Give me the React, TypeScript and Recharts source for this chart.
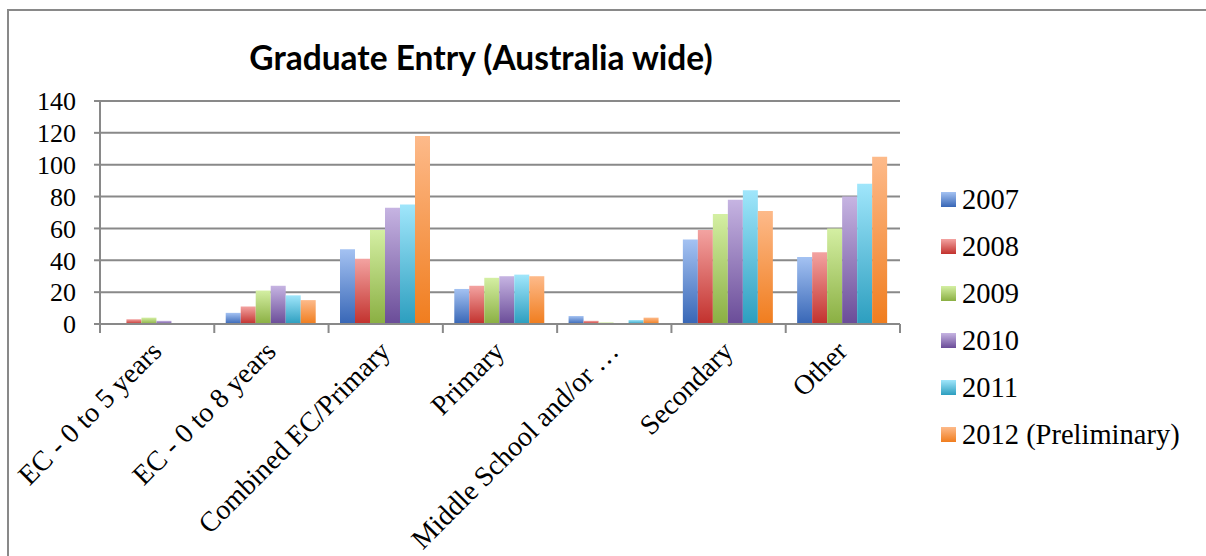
import React from 'react';
import { BarChart, Bar, XAxis, YAxis, CartesianGrid, Legend } from 'recharts';

const categories = [
  'EC - 0 to 5 years',
  'EC - 0 to 8 years',
  'Combined EC/Primary',
  'Primary',
  'Middle School and/or …',
  'Secondary',
  'Other',
];
const seriesNames = ['2007', '2008', '2009', '2010', '2011', '2012 (Preliminary)'];

const v2007 = [0, 7, 47, 22, 5, 53, 42];
const v2008 = [3, 11, 41, 24, 2, 59, 45];
const v2009 = [4, 21, 59, 29, 1, 69, 60];
const v2010 = [2, 24, 73, 30, 0, 78, 80];
const v2011 = [0.5, 18, 75, 31, 2.5, 84, 88];
const v2012 = [0, 15, 118, 30, 4, 71, 105];
const seriesValues = [v2007, v2008, v2009, v2010, v2011, v2012];

const yTicks = [0, 20, 40, 60, 80, 100, 120, 140];

// light top -> darker bottom, like the Office 2007 bar fills
const topColors = ['#a4c2f2', '#f3a3a1', '#d4efa3', '#c6b4e2', '#a0e6fb', '#fdba8a'];
const bottomColors = ['#3766b6', '#c2312d', '#8aaf42', '#6a4c98', '#2c9ebf', '#f07d1e'];

const data = categories.map((name, i) => {
  const row: Record<string, string | number> = { name };
  seriesNames.forEach((s, k) => {
    row[s] = seriesValues[k][i];
  });
  return row;
});

const SERIF = '"Liberation Serif", "DejaVu Serif", serif';
const GRAY = '#898989';
const PLOT_W = 800;
const BAND = PLOT_W / categories.length;

const CategoryTick = (props: any) => {
  const { x, y, payload, index } = props;
  return (
    <g>
      <line x1={x - BAND / 2} x2={x - BAND / 2} y1={y} y2={y + 9} stroke={GRAY} strokeWidth={2} />
      {index === categories.length - 1 && (
        <line x1={x + BAND / 2} x2={x + BAND / 2} y1={y} y2={y + 9} stroke={GRAY} strokeWidth={2} />
      )}
      <text
        transform={`translate(${x + 6},${y + 29}) rotate(-45)`}
        textAnchor="end"
        fontFamily={SERIF}
        fontSize={28}
        fill="#000"
      >
        {payload.value}
      </text>
    </g>
  );
};

const renderLegend = () => (
  <div style={{ fontFamily: SERIF, fontSize: 28.5, color: '#000' }}>
    {seriesNames.map((name, i) => (
      <div key={name} style={{ display: 'flex', alignItems: 'center', height: 47 }}>
        <span
          style={{
            display: 'inline-block',
            width: 15,
            height: 15,
            marginRight: 6,
            background: `linear-gradient(${topColors[i]}, ${bottomColors[i]})`,
          }}
        />
        <span style={{ whiteSpace: 'nowrap' }}>{name}</span>
      </div>
    ))}
  </div>
);

export default function App() {
  return (
    <div style={{ position: 'absolute', left: 0, top: 0, width: 1206, height: 556, background: '#fff', overflow: 'hidden' }}>
      <div
        style={{
          position: 'absolute',
          left: 7,
          top: 9,
          width: 1210,
          height: 560,
          borderTop: `2px solid ${GRAY}`,
          borderLeft: `2px solid ${GRAY}`,
        }}
      />
      <div
        style={{
          position: 'absolute',
          left: 0,
          top: 39,
          width: 962,
          textAlign: 'center',
          fontFamily: 'Lato, "Open Sans", sans-serif',
          fontWeight: 700,
          fontSize: 33.5,
          lineHeight: '36px',
          color: '#000',
        }}
      >
        Graduate Entry (Australia wide)
      </div>
      <div style={{ position: 'absolute', left: 0, top: 0 }}>
        <BarChart
          width={1206}
          height={556}
          data={data}
          margin={{ top: 101, right: 306, bottom: 202, left: 0 }}
          barCategoryGap="10%"
          barGap={0}
        >
          <defs>
            {seriesNames.map((s, i) => (
              <linearGradient key={s} id={`fill${i}`} x1="0" y1="0" x2="0" y2="1">
                <stop offset="0%" stopColor={topColors[i]} />
                <stop offset="100%" stopColor={bottomColors[i]} />
              </linearGradient>
            ))}
          </defs>
          <CartesianGrid vertical={false} stroke={GRAY} strokeWidth={2} />
          <XAxis
            dataKey="name"
            interval={0}
            height={30}
            tickLine={false}
            tickSize={0}
            tickMargin={0}
            axisLine={{ stroke: GRAY, strokeWidth: 2 }}
            tick={<CategoryTick />}
          />
          <YAxis
            width={100}
            domain={[0, 140]}
            ticks={yTicks}
            interval={0}
            tickSize={6}
            tickMargin={18}
            tickLine={{ stroke: GRAY, strokeWidth: 2 }}
            axisLine={{ stroke: GRAY, strokeWidth: 2 }}
            tick={{ fontFamily: SERIF, fontSize: 26, fill: '#000' }}
          />
          <Legend
            layout="vertical"
            align="center"
            verticalAlign="middle"
            content={renderLegend}
            wrapperStyle={{ left: 941, top: 176, width: 265, height: 290 }}
          />
          {seriesNames.map((s, i) => (
            <Bar key={s} dataKey={s} fill={`url(#fill${i})`} isAnimationActive={false} />
          ))}
        </BarChart>
      </div>
    </div>
  );
}
